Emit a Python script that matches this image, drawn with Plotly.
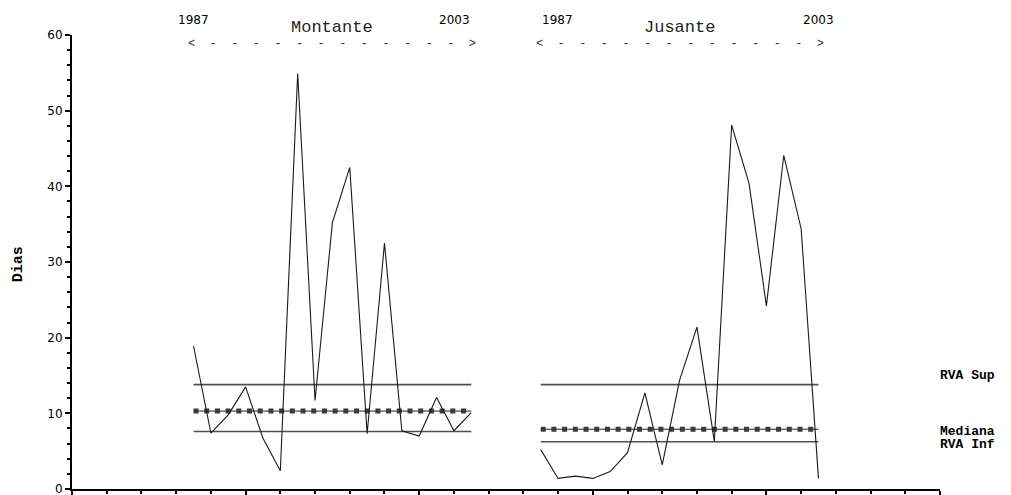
import plotly.graph_objects as go

# Annual values (days), 1987-2003
years = list(range(1987, 2004))
montante = [18.9, 7.4, 9.8, 13.5, 6.7, 2.4, 54.9, 11.7, 35.2, 42.5, 7.3, 32.5, 7.7, 7.0, 12.1, 7.7, 10.1]
jusante = [5.2, 1.4, 1.7, 1.4, 2.3, 4.8, 12.7, 3.2, 14.4, 21.4, 6.3, 48.1, 40.4, 24.2, 44.1, 34.4, 1.4]

# Reference levels per station: upper RVA limit, median, lower RVA limit
montante_rva_sup, montante_mediana, montante_rva_inf = 13.8, 10.3, 7.6
jusante_rva_sup, jusante_mediana, jusante_rva_inf = 13.8, 7.9, 6.25

# Horizontal placement of each station's block on the shared axis
montante_start, jusante_start, year_step = 3.5, 13.5, 0.5

x_mont = [montante_start + year_step * (y - years[0]) for y in years]
x_jus = [jusante_start + year_step * (y - years[0]) for y in years]

fig = go.Figure()

data_line = dict(color="#1a1a1a", width=1.1)
rva_line = dict(color="#505050", width=1.6)


def add_levels(xs, sup, med, inf):
    span = [xs[0], xs[-1]]
    fig.add_trace(go.Scatter(x=span, y=[sup, sup], mode="lines", line=rva_line, hoverinfo="skip"))
    fig.add_trace(go.Scatter(x=span, y=[inf, inf], mode="lines", line=rva_line, hoverinfo="skip"))
    fig.add_trace(go.Scatter(x=span, y=[med, med], mode="lines",
                             line=dict(color="#222222", width=1), hoverinfo="skip"))
    fig.add_trace(go.Scatter(x=span, y=[med, med], mode="lines",
                             line=dict(color="#3a3a3a", width=5, dash="5px,5.7px"), hoverinfo="skip"))


add_levels(x_mont, montante_rva_sup, montante_mediana, montante_rva_inf)
add_levels(x_jus, jusante_rva_sup, jusante_mediana, jusante_rva_inf)

fig.add_trace(go.Scatter(x=x_mont, y=montante, mode="lines", line=data_line, name="Montante"))
fig.add_trace(go.Scatter(x=x_jus, y=jusante, mode="lines", line=data_line, name="Jusante"))

mono = "Liberation Mono, Courier New, monospace"
sans = "DejaVu Sans, Verdana, sans-serif"
arrow_text = "<" + "  -" * 12 + "  >"

# Vertical positions of the header rows, as fractions of the plot height
year_row, name_row, arrow_row = 1.034, 1.0176, 0.980

annotations = []
for xs, name, first_shift, last_shift in [(x_mont, "Montante", 0, -17), (x_jus, "Jusante", 17, 0)]:
    mid = (xs[0] + xs[-1]) / 2
    annotations += [
        dict(x=xs[0], y=year_row, xref="x", yref="paper", text=str(years[0]), showarrow=False,
             xshift=first_shift, yanchor="middle", xanchor="center",
             font=dict(family=sans, size=12, color="black")),
        dict(x=xs[-1], y=year_row, xref="x", yref="paper", text=str(years[-1]), showarrow=False,
             xshift=last_shift, yanchor="middle", xanchor="center",
             font=dict(family=sans, size=12, color="black")),
        dict(x=mid, y=name_row, xref="x", yref="paper", text=name, showarrow=False,
             yanchor="middle", xanchor="center",
             font=dict(family=mono, size=17, color="#222222")),
        dict(x=mid, y=arrow_row, xref="x", yref="paper", text=arrow_text, showarrow=False,
             yanchor="middle", xanchor="center",
             font=dict(family=mono, size=12, color="#333333")),
    ]

# Labels for the reference lines, on the right edge
for text, yv, shift in [("RVA Sup", jusante_rva_sup, 9), ("Mediana", jusante_mediana, -2.5),
                        ("RVA Inf", jusante_rva_inf, -2.5)]:
    annotations.append(dict(x=0.9977, y=yv, xref="paper", yref="y", text=f"<b>{text}</b>",
                            showarrow=False, xanchor="left", yanchor="middle", yshift=shift,
                            font=dict(family=mono, size=13, color="black")))

annotations.append(dict(x=-0.0622, y=0.495, xref="paper", yref="paper", text="<b>Dias</b>",
                        showarrow=False, textangle=-90, xanchor="center", yanchor="middle",
                        font=dict(family=mono, size=15, color="black")))

fig.update_layout(
    width=1011, height=495,
    margin=dict(l=72, r=71, t=35, b=6, autoexpand=False),
    paper_bgcolor="white", plot_bgcolor="white",
    showlegend=False,
    annotations=annotations,
    xaxis=dict(range=[0, 25], showgrid=False, zeroline=False, showline=True, automargin=False,
               linecolor="black", linewidth=2, ticks="outside", ticklen=6, tickwidth=2,
               tickcolor="black", tick0=0, dtick=5, showticklabels=False,
               minor=dict(ticks="outside", ticklen=3, tickwidth=2, dtick=1, tickcolor="black")),
    yaxis=dict(range=[0, 60], showgrid=False, zeroline=False, showline=True, automargin=False,
               linecolor="black", linewidth=2, ticks="outside", ticklen=5, tickwidth=1.5,
               tickcolor="black", tick0=0, dtick=10, ticklabeloverflow="allow",
               tickfont=dict(family=sans, size=12, color="black"),
               minor=dict(ticks="outside", ticklen=3, tickwidth=1.5, dtick=2, tickcolor="black")),
)

fig.write_html("out.html")
